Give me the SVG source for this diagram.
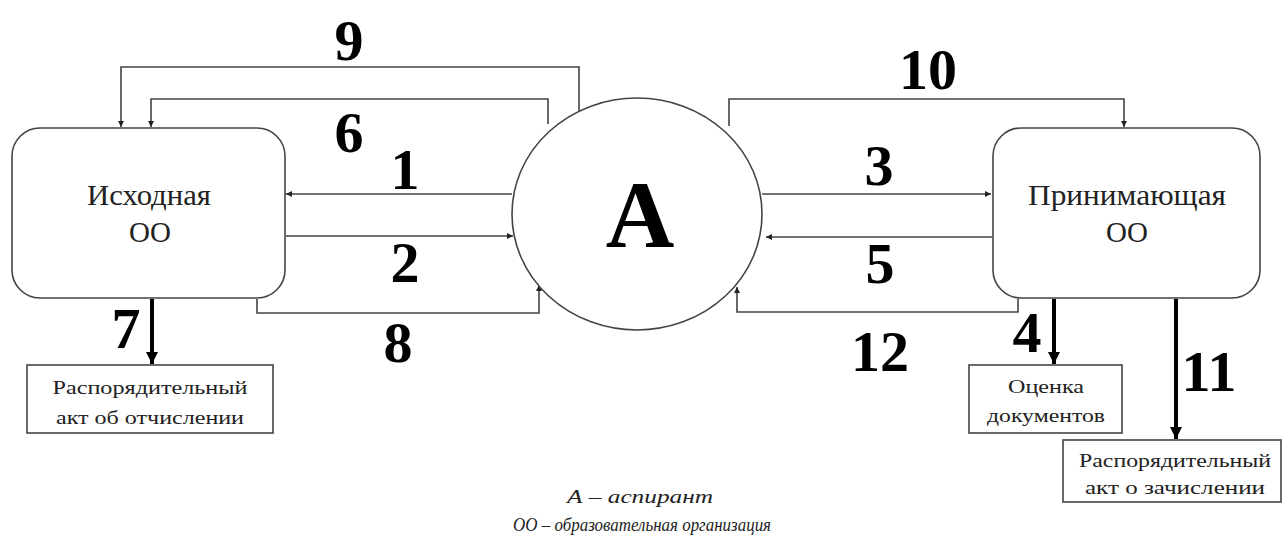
<svg xmlns="http://www.w3.org/2000/svg" width="1284" height="557" viewBox="0 0 1284 557">
<defs>
<marker id="ah" viewBox="0 0 10 10" refX="10" refY="5" markerWidth="6" markerHeight="6" orient="auto" markerUnits="userSpaceOnUse"><path d="M0,0 L10,5 L0,10 z" fill="#222"/></marker>
<marker id="ahb" viewBox="0 0 10 10" refX="10" refY="5" markerWidth="12" markerHeight="12" orient="auto" markerUnits="userSpaceOnUse"><path d="M0,0 L10,5 L0,10 z" fill="#000"/></marker>
<style>
.ln{fill:none;stroke:#444;stroke-width:1.6}
.th{fill:none;stroke:#000;stroke-width:4}
.box{fill:#fff;stroke:#444;stroke-width:1.6}
.num{font-family:"Liberation Serif","DejaVu Serif",serif;font-weight:bold;font-size:58px;fill:#000;text-anchor:middle}
.lbl{font-family:"Liberation Serif","DejaVu Serif",serif;font-size:29px;fill:#222;text-anchor:middle}
.sm{font-family:"Liberation Serif","DejaVu Serif",serif;font-size:19px;fill:#222;text-anchor:middle}
.leg{font-family:"Liberation Serif","DejaVu Serif",serif;font-style:italic;font-size:18px;fill:#222;text-anchor:middle}
</style>
</defs>
<rect width="1284" height="557" fill="#fff"/>
<g id="connectors">
<path class="ln" d="M579,134 V67 H121 V127" marker-end="url(#ah)"/>
<path class="ln" d="M548,124 V99 H151 V127" marker-end="url(#ah)"/>
<path class="ln" d="M512,194 H286" marker-end="url(#ah)"/>
<path class="ln" d="M286,236 H513" marker-end="url(#ah)"/>
<path class="ln" d="M257,299 V313 H539 V285" marker-end="url(#ah)"/>
<path class="ln" d="M729,126 V99 H1124 V127" marker-end="url(#ah)"/>
<path class="ln" d="M762,194 H991" marker-end="url(#ah)"/>
<path class="ln" d="M992,237 H766" marker-end="url(#ah)"/>
<path class="ln" d="M1018,299 V312 H737 V287" marker-end="url(#ah)"/>
<path class="th" d="M152,299 V364" marker-end="url(#ahb)"/>
<path class="th" d="M1054,299 V364" marker-end="url(#ahb)"/>
<path class="th" d="M1176,299 V439" marker-end="url(#ahb)"/>
<text class="num" x="349" y="60">9</text>
<text class="num" x="349" y="152">6</text>
<text class="num" x="405" y="189">1</text>
<text class="num" x="405" y="282">2</text>
<text class="num" x="398" y="362">8</text>
<text class="num" x="126" y="348">7</text>
<text class="num" x="928" y="89">10</text>
<text class="num" x="879" y="185">3</text>
<text class="num" x="880" y="283">5</text>
<text class="num" x="880" y="371">12</text>
<text class="num" x="1027" y="352">4</text>
<text class="num" x="1209" y="391">11</text>
</g>
<g id="node-source">
<rect class="box" x="12" y="128" width="273" height="170" rx="28"/>
<text class="lbl" x="149" y="205" textLength="124" lengthAdjust="spacingAndGlyphs">Исходная</text>
<text class="lbl" x="150" y="242">ОО</text>
</g>
<g id="node-a">
<ellipse class="box" cx="637" cy="214" rx="125" ry="116"/>
<text x="640" y="247" font-family="Liberation Serif, DejaVu Serif, serif" font-weight="bold" font-size="95" text-anchor="middle" fill="#000">А</text>
</g>
<g id="node-target">
<rect class="box" x="993" y="128" width="267" height="170" rx="28"/>
<text class="lbl" x="1127" y="205" textLength="198" lengthAdjust="spacingAndGlyphs">Принимающая</text>
<text class="lbl" x="1127" y="242">ОО</text>
</g>
<g id="node-expel">
<rect class="box" x="27" y="365" width="246" height="68"/>
<text class="sm" x="150" y="394" textLength="195" lengthAdjust="spacingAndGlyphs">Распорядительный</text>
<text class="sm" x="150" y="424" textLength="188" lengthAdjust="spacingAndGlyphs">акт об отчислении</text>
</g>
<g id="node-eval">
<rect class="box" x="969" y="365" width="153" height="68"/>
<text class="sm" x="1046" y="393" textLength="76" lengthAdjust="spacingAndGlyphs">Оценка</text>
<text class="sm" x="1046" y="422" textLength="118" lengthAdjust="spacingAndGlyphs">документов</text>
</g>
<g id="node-enroll">
<rect class="box" x="1063" y="440" width="218" height="62"/>
<text class="sm" x="1175" y="467" textLength="192" lengthAdjust="spacingAndGlyphs">Распорядительный</text>
<text class="sm" x="1175" y="494" textLength="180" lengthAdjust="spacingAndGlyphs">акт о зачислении</text>
</g>
<g id="legend">
<text class="leg" x="640" y="503" textLength="146" lengthAdjust="spacingAndGlyphs">А –  аспирант</text>
<text class="leg" x="642" y="531" textLength="258" lengthAdjust="spacingAndGlyphs">ОО – образовательная организация</text>
</g>
</svg>
